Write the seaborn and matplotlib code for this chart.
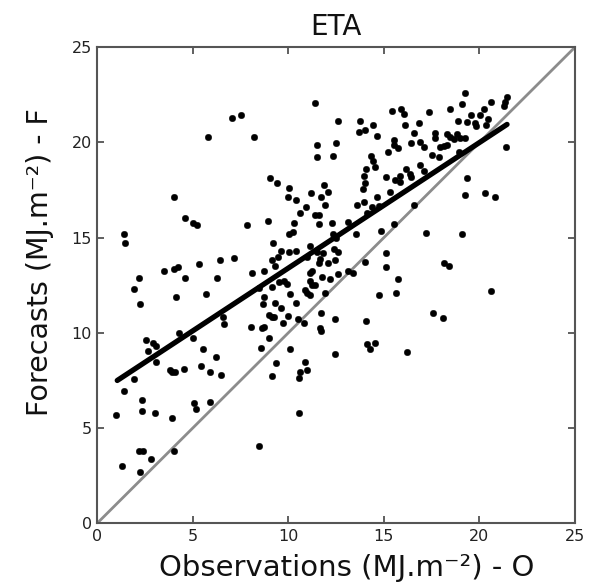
import matplotlib
matplotlib.use("Agg")
import matplotlib.pyplot as plt
import seaborn as sns
import pandas as pd

# Observed (x) and forecast (y) daily radiation, MJ.m-2
obs = [4.00, 5.78, 7.05, 7.52, 8.19,
       11.41, 12.60, 13.77, 13.69, 14.03, 14.42, 14.64, 15.43, 15.90, 16.04, 16.13, 16.60,
       11.50, 12.51, 11.50, 12.32, 15.52, 15.55, 15.73, 15.20, 16.42, 14.33, 14.43, 14.55,
       14.08, 13.95, 14.03, 13.91, 15.12, 15.60, 15.83, 15.86, 16.16, 16.36, 16.42, 15.34,
       14.64, 9.06, 9.41, 10.02, 9.97, 11.85, 12.06, 11.19, 11.71, 10.42,
       19.27, 19.09, 20.61, 21.45, 21.36, 21.31, 17.38, 18.48, 19.58, 20.05, 20.23, 18.87,
       19.36, 19.79, 19.84, 20.44, 20.37, 16.83, 17.70, 17.70, 18.31, 18.48, 18.66, 18.83,
       19.01, 19.27, 16.91, 17.09, 17.96, 18.14, 18.31, 18.92, 17.52, 17.87, 21.40, 16.91,
       17.09, 19.36, 19.27, 20.28, 20.84,
       4.61, 5.01, 5.22, 7.84, 1.38, 1.47, 3.51, 4.00, 4.23, 5.31, 6.41, 7.17, 8.10, 2.17,
       4.61, 6.27, 1.94, 5.71, 4.14, 2.22, 6.57, 6.65, 8.06, 2.57, 2.92, 3.09, 4.26, 4.99,
       5.53, 2.64, 6.23,
       10.94, 11.91, 13.60, 13.95, 14.38, 14.73, 10.63, 11.41, 11.59, 13.11, 14.12, 8.92,
       10.31, 11.59, 12.29, 15.55, 16.60, 10.05, 10.23, 12.34, 12.51, 13.54, 14.85, 9.20,
       11.12, 9.62, 10.02, 10.42, 11.50, 11.82, 12.38, 12.59, 15.13, 9.15, 9.45, 10.98,
       11.64, 11.59, 12.06, 12.46, 8.74, 9.32, 15.12, 11.12, 11.24, 11.76, 12.20, 12.60,
       13.11, 13.39, 14.03, 15.73, 9.50, 9.79, 9.93, 9.15, 11.15, 11.24, 11.41, 8.45,
       8.71, 10.07, 10.89, 10.98, 11.12, 11.94, 14.73, 15.65, 8.68, 9.32, 9.62, 10.42,
       8.97, 9.15, 9.24, 9.97, 11.71, 8.62, 8.74, 9.72, 10.49, 10.81, 12.43, 14.08,
       11.64, 11.71, 8.97, 8.57, 10.07, 14.12, 14.26, 14.55, 12.43, 16.21,
       17.23, 19.09, 18.17, 18.40, 20.61, 17.56, 18.10,
       3.09, 1.91, 1.38, 3.79, 3.91, 4.08, 4.52, 5.45, 5.88, 6.48, 2.34, 2.34, 0.98, 3.04,
       3.91, 5.05, 5.17, 5.92, 2.17, 2.39, 2.81, 4.03, 1.29, 2.22,
       9.37, 9.15, 10.89, 10.63, 10.98, 10.54, 10.54, 8.45]
fcst = [17.12, 20.27, 21.27, 21.44, 20.27,
        22.09, 21.15, 21.15, 20.57, 20.66, 20.92, 20.34, 21.67, 21.74, 21.50, 20.92, 20.48,
        19.87, 19.96, 19.25, 19.31, 20.13, 19.87, 19.70, 19.49, 19.96, 19.31, 19.03, 18.73,
        18.61, 18.26, 17.89, 17.56, 18.17, 18.03, 18.24, 17.94, 18.61, 18.33, 18.17, 17.42,
        17.12, 18.12, 17.89, 17.63, 17.15, 17.77, 17.42, 17.33, 17.12, 16.98,
        22.58, 22.01, 22.14, 22.37, 22.14, 21.92, 21.62, 21.74, 21.44, 21.44, 21.74, 21.15,
        21.09, 21.01, 20.87, 21.22, 20.92, 21.01, 20.51, 20.22, 20.45, 20.27, 20.17, 20.45,
        20.22, 20.22, 20.04, 19.75, 19.78, 19.82, 19.87, 19.52, 19.34, 19.25, 19.75, 18.82,
        18.52, 18.12, 17.24, 17.36, 17.12,
        16.02, 15.79, 15.67, 15.67, 15.19, 14.71, 13.25, 13.36, 13.45, 13.60, 13.83, 13.92,
        13.13, 12.90, 12.90, 12.90, 12.29, 12.04, 11.87, 11.50, 10.82, 10.47, 10.33, 9.63,
        9.49, 9.33, 10.01, 9.75, 9.17, 9.05, 8.72,
        16.60, 16.73, 16.73, 16.89, 16.60, 16.67, 16.28, 16.19, 16.19, 15.84, 16.28, 15.89,
        15.79, 15.72, 15.79, 15.72, 16.72, 15.19, 15.32, 15.19, 14.97, 15.19, 15.35, 14.71,
        14.56, 14.32, 14.23, 14.32, 14.26, 14.18, 14.39, 14.26, 14.18, 13.83, 13.97, 13.97,
        13.87, 13.66, 13.69, 13.83, 13.25, 13.51, 13.48, 13.16, 13.27, 12.92, 12.82, 13.09,
        13.25, 13.16, 13.74, 12.82, 12.69, 12.74, 12.57, 12.39, 12.74, 12.52, 12.52, 12.34,
        11.90, 12.04, 12.25, 12.08, 11.99, 12.08, 11.99, 12.11, 11.52, 11.59, 11.29, 11.59,
        10.94, 10.85, 10.82, 10.89, 11.03, 10.27, 10.33, 10.54, 10.73, 10.54, 10.71, 10.64,
        10.24, 10.12, 9.72, 9.22, 9.15, 9.42, 9.15, 9.45, 8.89, 8.98,
        15.26, 15.19, 13.69, 13.53, 12.20, 11.03, 10.80,
        8.49, 7.56, 6.95, 8.05, 7.96, 7.96, 8.10, 8.28, 7.96, 7.79, 6.48, 5.91, 5.69, 5.81,
        5.55, 6.30, 5.99, 6.39, 3.81, 3.81, 3.36, 3.81, 3.01, 2.71,
        8.43, 7.75, 8.49, 7.96, 8.05, 7.65, 5.78, 4.06]

# Linear fit drawn in the reference (end points)
fit_x = [1.05, 21.45]
fit_y = [7.50, 20.95]
# 1:1 reference line
ref_xy = [0, 25]

ticks = [0, 5, 10, 15, 20, 25]

sns.set_theme(style="white")
plt.rcParams["font.family"] = ["DejaVu Sans"]

fig = plt.figure(figsize=(5.89, 5.84), dpi=100)
ax = fig.add_axes([0.165, 0.104, 0.811, 0.815])

df = pd.DataFrame({"O": obs, "F": fcst})
sns.lineplot(x=ref_xy, y=ref_xy, ax=ax, color="#8c8c8c", linewidth=2.0, zorder=1)
sns.scatterplot(data=df, x="O", y="F", ax=ax, color="black", s=22,
                edgecolor="black", linewidth=0.3, zorder=2)
sns.lineplot(x=fit_x, y=fit_y, ax=ax, color="black", linewidth=3.8, zorder=3)

ax.set_xlim(0, 25)
ax.set_ylim(0, 25)
ax.set_xticks(ticks)
ax.set_yticks(ticks)
ax.set_xticklabels([str(t) for t in ticks])
ax.set_yticklabels([str(t) for t in ticks])
ax.tick_params(direction="in", length=5, width=1.2, colors="#444444",
               labelcolor="#222222", labelsize=11.5, top=True, right=True,
               bottom=True, left=True, pad=4)
for sp in ax.spines.values():
    sp.set_visible(True)
    sp.set_color("#555555")
    sp.set_linewidth(1.5)

ax.set_xlabel("Observations (MJ.m\u207b\u00b2) - O", fontsize=21, color="#111111")
ax.set_ylabel("Forecasts (MJ.m\u207b\u00b2) - F", fontsize=20.5, color="#111111")
ax.xaxis.set_label_coords(0.523, -0.064)
ax.yaxis.set_label_coords(-0.09, 0.548)
ax.set_title("ETA", fontsize=20, pad=9, color="#111111")

fig.savefig("out.png", dpi=100)
